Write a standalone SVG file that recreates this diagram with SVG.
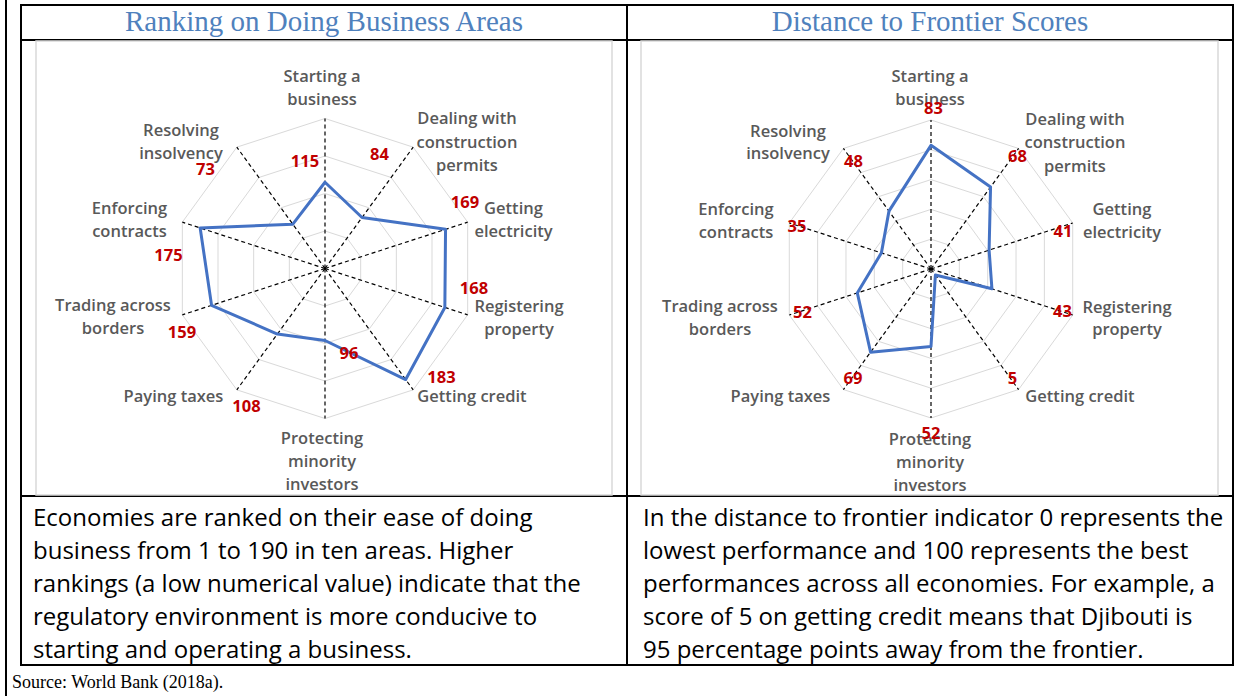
<svg xmlns="http://www.w3.org/2000/svg" width="1241" height="696" viewBox="0 0 1241 696">
<style>
.tl{stroke:#000;stroke-width:2;fill:none}
.panel{fill:#fff;stroke:#d9d9d9;stroke-width:1.5}
.ring{fill:none;stroke:#d9d9d9;stroke-width:1}
.axis{stroke:#000;stroke-width:1.2;stroke-dasharray:4 3;fill:none}
.series{fill:none;stroke:#4472c4;stroke-width:3;stroke-linejoin:round}
.cat{font-family:"Open Sans","Liberation Sans",sans-serif;font-weight:600;font-size:16.5px;fill:#595959;text-anchor:middle}
.val{font-family:"Open Sans","Liberation Sans",sans-serif;font-weight:700;font-size:16.5px;fill:#c00000;text-anchor:middle}
.title{font-family:"Liberation Serif","Times New Roman",serif;font-size:29px;fill:#4f81bd;text-anchor:middle}
.body{font-family:"Open Sans","Liberation Sans",sans-serif;font-size:24px;fill:#000}
.src{font-family:"Liberation Serif","Times New Roman",serif;font-size:18px;fill:#000}
</style>
<rect width="1241" height="696" fill="#fff"/>

<g id="table">
<line class="tl" x1="6" y1="0" x2="6" y2="696"/>
<rect class="tl" x="21" y="5" width="1212" height="660"/>
<line class="tl" x1="21" y1="40" x2="1233" y2="40"/>
<line class="tl" x1="21" y1="496" x2="1233" y2="496"/>
<line class="tl" x1="627" y1="5" x2="627" y2="665"/>
</g>

<g id="titles">
<text class="title" x="324" y="31">Ranking on Doing Business Areas</text>
<text class="title" x="930" y="31">Distance to Frontier Scores</text>
</g>

<g id="chart-ranking">
<rect class="panel" x="36" y="41" width="576" height="454"/>
<g transform="translate(325,268.5)">
<polygon class="ring" points="0,-150 88.17,-121.35 142.66,-46.35 142.66,46.35 88.17,121.35 0,150 -88.17,121.35 -142.66,46.35 -142.66,-46.35 -88.17,-121.35"/>
<polygon class="ring" points="0,-112.5 66.13,-91.01 107,-34.76 107,34.76 66.13,91.01 0,112.5 -66.13,91.01 -107,34.76 -107,-34.76 -66.13,-91.01"/>
<polygon class="ring" points="0,-75 44.09,-60.68 71.33,-23.18 71.33,23.18 44.09,60.68 0,75 -44.09,60.68 -71.33,23.18 -71.33,-23.18 -44.09,-60.68"/>
<polygon class="ring" points="0,-37.5 22.04,-30.34 35.67,-11.59 35.67,11.59 22.04,30.34 0,37.5 -22.04,30.34 -35.67,11.59 -35.67,-11.59 -22.04,-30.34"/>
<g id="axes-ranking">
<line class="axis" x1="0" y1="0" x2="0" y2="-150"/>
<line class="axis" x1="0" y1="0" x2="88.17" y2="-121.35"/>
<line class="axis" x1="0" y1="0" x2="142.66" y2="-46.35"/>
<line class="axis" x1="0" y1="0" x2="142.66" y2="46.35"/>
<line class="axis" x1="0" y1="0" x2="88.17" y2="121.35"/>
<line class="axis" x1="0" y1="0" x2="0" y2="150"/>
<line class="axis" x1="0" y1="0" x2="-88.17" y2="121.35"/>
<line class="axis" x1="0" y1="0" x2="-142.66" y2="46.35"/>
<line class="axis" x1="0" y1="0" x2="-142.66" y2="-46.35"/>
<line class="axis" x1="0" y1="0" x2="-88.17" y2="-121.35"/>
</g>
<polygon class="series" points="0,-86.25 37.03,-50.97 120.55,-39.17 119.84,38.93 80.68,111.04 0,72 -47.61,65.53 -113.42,36.85 -124.83,-40.56 -32.18,-44.29"/>
</g>
<g id="labels-ranking">
<text class="cat" x="322"><tspan x="322" y="82">Starting a</tspan><tspan x="322" y="105">business</tspan></text>
<text class="cat"><tspan x="467" y="124">Dealing with</tspan><tspan x="467" y="147.5">construction</tspan><tspan x="467" y="171">permits</tspan></text>
<text class="cat"><tspan x="513.5" y="213.5">Getting</tspan><tspan x="513.5" y="237">electricity</tspan></text>
<text class="cat"><tspan x="519" y="311.5">Registering</tspan><tspan x="519" y="334.5">property</tspan></text>
<text class="cat" x="472" y="401.5">Getting credit</text>
<text class="cat"><tspan x="322" y="443.5">Protecting</tspan><tspan x="322" y="467">minority</tspan><tspan x="322" y="490">investors</tspan></text>
<text class="cat" x="173.5" y="401.5">Paying taxes</text>
<text class="cat"><tspan x="113" y="311">Trading across</tspan><tspan x="113" y="334">borders</tspan></text>
<text class="cat"><tspan x="129.5" y="214">Enforcing</tspan><tspan x="129.5" y="237">contracts</tspan></text>
<text class="cat"><tspan x="181" y="136">Resolving</tspan><tspan x="181" y="158.5">insolvency</tspan></text>
</g>
<g id="values-ranking">
<text class="val" x="305" y="167">115</text>
<text class="val" x="379.5" y="160">84</text>
<text class="val" x="465" y="208">169</text>
<text class="val" x="474" y="294">168</text>
<text class="val" x="441.5" y="383">183</text>
<text class="val" x="349" y="358.5">96</text>
<text class="val" x="246.5" y="412">108</text>
<text class="val" x="182" y="338">159</text>
<text class="val" x="168.5" y="261">175</text>
<text class="val" x="205.5" y="175">73</text>
</g>
</g>

<g id="chart-frontier">
<rect class="panel" x="641" y="41" width="577" height="454"/>
<g transform="translate(931,269)">
<polygon class="ring" points="0,-149 87.58,-120.54 141.71,-46.04 141.71,46.04 87.58,120.54 0,149 -87.58,120.54 -141.71,46.04 -141.71,-46.04 -87.58,-120.54"/>
<polygon class="ring" points="0,-119.2 70.07,-96.43 113.37,-36.83 113.37,36.83 70.07,96.43 0,119.2 -70.07,96.43 -113.37,36.83 -113.37,-36.83 -70.07,-96.43"/>
<polygon class="ring" points="0,-89.4 52.55,-72.32 85.03,-27.62 85.03,27.62 52.55,72.32 0,89.4 -52.55,72.32 -85.03,27.62 -85.03,-27.62 -52.55,-72.32"/>
<polygon class="ring" points="0,-59.6 35.03,-48.22 56.69,-18.42 56.69,18.42 35.03,48.22 0,59.6 -35.03,48.22 -56.69,18.42 -56.69,-18.42 -35.03,-48.22"/>
<polygon class="ring" points="0,-29.8 17.52,-24.11 28.34,-9.21 28.34,9.21 17.52,24.11 0,29.8 -17.52,24.11 -28.34,9.21 -28.34,-9.21 -17.52,-24.11"/>
<g id="axes-frontier">
<line class="axis" x1="0" y1="0" x2="0" y2="-149"/>
<line class="axis" x1="0" y1="0" x2="87.58" y2="-120.54"/>
<line class="axis" x1="0" y1="0" x2="141.71" y2="-46.04"/>
<line class="axis" x1="0" y1="0" x2="141.71" y2="46.04"/>
<line class="axis" x1="0" y1="0" x2="87.58" y2="120.54"/>
<line class="axis" x1="0" y1="0" x2="0" y2="149"/>
<line class="axis" x1="0" y1="0" x2="-87.58" y2="120.54"/>
<line class="axis" x1="0" y1="0" x2="-141.71" y2="46.04"/>
<line class="axis" x1="0" y1="0" x2="-141.71" y2="-46.04"/>
<line class="axis" x1="0" y1="0" x2="-87.58" y2="-120.54"/>
</g>
<polygon class="series" points="0,-123.67 59.56,-81.97 58.1,-18.88 60.94,19.8 4.38,6.03 0,77.48 -60.43,83.17 -73.69,23.94 -49.6,-16.11 -42.04,-57.86"/>
</g>
<g id="labels-frontier">
<text class="cat"><tspan x="930" y="82">Starting a</tspan><tspan x="930" y="105">business</tspan></text>
<text class="cat"><tspan x="1075" y="125">Dealing with</tspan><tspan x="1075" y="148">construction</tspan><tspan x="1075" y="171.5">permits</tspan></text>
<text class="cat"><tspan x="1122" y="215">Getting</tspan><tspan x="1122" y="237.5">electricity</tspan></text>
<text class="cat"><tspan x="1127" y="312.5">Registering</tspan><tspan x="1127" y="335">property</tspan></text>
<text class="cat" x="1080" y="401.5">Getting credit</text>
<text class="cat"><tspan x="930" y="445">Protecting</tspan><tspan x="930" y="468">minority</tspan><tspan x="930" y="491">investors</tspan></text>
<text class="cat" x="780.5" y="401.5">Paying taxes</text>
<text class="cat"><tspan x="720" y="311.5">Trading across</tspan><tspan x="720" y="334.5">borders</tspan></text>
<text class="cat"><tspan x="736" y="215">Enforcing</tspan><tspan x="736" y="237.5">contracts</tspan></text>
<text class="cat"><tspan x="788" y="136.5">Resolving</tspan><tspan x="788" y="159">insolvency</tspan></text>
</g>
<g id="values-frontier">
<text class="val" x="933.5" y="113.5">83</text>
<text class="val" x="1017.5" y="161.5">68</text>
<text class="val" x="1063" y="236.5">41</text>
<text class="val" x="1062.5" y="316.5">43</text>
<text class="val" x="1012.5" y="384">5</text>
<text class="val" x="931" y="438.5">52</text>
<text class="val" x="853" y="383.5">69</text>
<text class="val" x="802.5" y="317.5">52</text>
<text class="val" x="797" y="231.5">35</text>
<text class="val" x="853.5" y="166.5">48</text>
</g>
</g>

<g id="note-ranking">
<text class="body" x="33" y="526">Economies are ranked on their ease of doing</text>
<text class="body" x="33" y="559">business from 1 to 190 in ten areas. Higher</text>
<text class="body" x="33" y="592">rankings (a low numerical value) indicate that the</text>
<text class="body" x="33" y="625">regulatory environment is more conducive to</text>
<text class="body" x="33" y="658">starting and operating a business.</text>
</g>
<g id="note-frontier">
<text class="body" x="643" y="526">In the distance to frontier indicator 0 represents the</text>
<text class="body" x="643" y="559">lowest performance and 100 represents the best</text>
<text class="body" x="643" y="592">performances across all economies. For example, a</text>
<text class="body" x="643" y="625">score of 5 on getting credit means that Djibouti is</text>
<text class="body" x="643" y="658">95 percentage points away from the frontier.</text>
</g>

<text id="source" class="src" x="12" y="688">Source: World Bank (2018a).</text>
</svg>
